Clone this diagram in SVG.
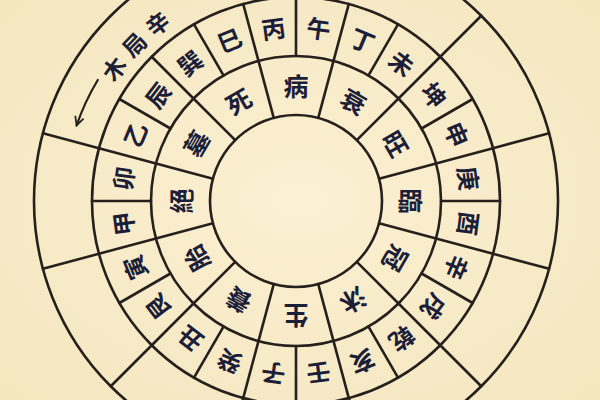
<svg xmlns="http://www.w3.org/2000/svg" width="600" height="400" viewBox="0 0 600 400">
<defs>
<style>
.ln{stroke:#26211d;stroke-width:2.6;fill:none;stroke-linecap:round}
.m{font-family:"Noto Sans CJK TC","Noto Sans CJK SC",sans-serif;font-size:24px;font-weight:bold;fill:#1b2038;text-anchor:middle;dominant-baseline:central}
.s{font-family:"Noto Sans CJK TC","Noto Sans CJK SC",sans-serif;font-size:25px;font-weight:bold;fill:#1b2038;text-anchor:middle;dominant-baseline:central}
.o{font-family:"Noto Sans CJK TC","Noto Sans CJK SC",sans-serif;font-size:23px;font-weight:bold;fill:#1b2038;text-anchor:middle;dominant-baseline:central}
</style>
<radialGradient id="bg" cx="50%" cy="50%" r="70%">
<stop offset="0" stop-color="#fbf0d2"/>
<stop offset="1" stop-color="#f4e6bf"/>
</radialGradient>
<marker id="ah" viewBox="0 0 10 10" refX="9" refY="5" markerWidth="5" markerHeight="5" orient="auto" markerUnits="strokeWidth">
<path d="M1,1 L9,5 L1,9" fill="none" stroke="#26211d" stroke-width="1.6"/>
</marker>
</defs>
<rect width="600" height="400" fill="url(#bg)"/>
<g id="rings" class="ln">
<circle cx="296" cy="201" r="86"/>
<circle cx="296" cy="201" r="145"/>
<circle cx="296" cy="201" r="204"/>
<circle cx="296" cy="201" r="262"/>
</g>
<g id="connectors" class="ln">
<line x1="296" y1="56" x2="296" y2="-3" transform="rotate(0 296 201)"/>
<line x1="296" y1="56" x2="296" y2="-3" transform="rotate(15 296 201)"/>
<line x1="296" y1="56" x2="296" y2="-3" transform="rotate(30 296 201)"/>
<line x1="296" y1="56" x2="296" y2="-3" transform="rotate(45 296 201)"/>
<line x1="296" y1="56" x2="296" y2="-3" transform="rotate(60 296 201)"/>
<line x1="296" y1="56" x2="296" y2="-3" transform="rotate(75 296 201)"/>
<line x1="296" y1="56" x2="296" y2="-3" transform="rotate(90 296 201)"/>
<line x1="296" y1="56" x2="296" y2="-3" transform="rotate(105 296 201)"/>
<line x1="296" y1="56" x2="296" y2="-3" transform="rotate(120 296 201)"/>
<line x1="296" y1="56" x2="296" y2="-3" transform="rotate(135 296 201)"/>
<line x1="296" y1="56" x2="296" y2="-3" transform="rotate(150 296 201)"/>
<line x1="296" y1="56" x2="296" y2="-3" transform="rotate(165 296 201)"/>
<line x1="296" y1="56" x2="296" y2="-3" transform="rotate(180 296 201)"/>
<line x1="296" y1="56" x2="296" y2="-3" transform="rotate(195 296 201)"/>
<line x1="296" y1="56" x2="296" y2="-3" transform="rotate(210 296 201)"/>
<line x1="296" y1="56" x2="296" y2="-3" transform="rotate(225 296 201)"/>
<line x1="296" y1="56" x2="296" y2="-3" transform="rotate(240 296 201)"/>
<line x1="296" y1="56" x2="296" y2="-3" transform="rotate(255 296 201)"/>
<line x1="296" y1="56" x2="296" y2="-3" transform="rotate(270 296 201)"/>
<line x1="296" y1="56" x2="296" y2="-3" transform="rotate(285 296 201)"/>
<line x1="296" y1="56" x2="296" y2="-3" transform="rotate(300 296 201)"/>
<line x1="296" y1="56" x2="296" y2="-3" transform="rotate(315 296 201)"/>
<line x1="296" y1="56" x2="296" y2="-3" transform="rotate(330 296 201)"/>
<line x1="296" y1="56" x2="296" y2="-3" transform="rotate(345 296 201)"/>
<line x1="296" y1="115" x2="296" y2="56" transform="rotate(15 296 201)"/>
<line x1="296" y1="115" x2="296" y2="56" transform="rotate(45 296 201)"/>
<line x1="296" y1="115" x2="296" y2="56" transform="rotate(75 296 201)"/>
<line x1="296" y1="115" x2="296" y2="56" transform="rotate(105 296 201)"/>
<line x1="296" y1="115" x2="296" y2="56" transform="rotate(135 296 201)"/>
<line x1="296" y1="115" x2="296" y2="56" transform="rotate(165 296 201)"/>
<line x1="296" y1="115" x2="296" y2="56" transform="rotate(195 296 201)"/>
<line x1="296" y1="115" x2="296" y2="56" transform="rotate(225 296 201)"/>
<line x1="296" y1="115" x2="296" y2="56" transform="rotate(255 296 201)"/>
<line x1="296" y1="115" x2="296" y2="56" transform="rotate(285 296 201)"/>
<line x1="296" y1="115" x2="296" y2="56" transform="rotate(315 296 201)"/>
<line x1="296" y1="115" x2="296" y2="56" transform="rotate(345 296 201)"/>
<line x1="296" y1="-3" x2="296" y2="-61" transform="rotate(45 296 201)"/>
<line x1="296" y1="-3" x2="296" y2="-61" transform="rotate(75 296 201)"/>
<line x1="296" y1="-3" x2="296" y2="-61" transform="rotate(105 296 201)"/>
<line x1="296" y1="-3" x2="296" y2="-61" transform="rotate(135 296 201)"/>
<line x1="296" y1="-3" x2="296" y2="-61" transform="rotate(165 296 201)"/>
<line x1="296" y1="-3" x2="296" y2="-61" transform="rotate(195 296 201)"/>
<line x1="296" y1="-3" x2="296" y2="-61" transform="rotate(225 296 201)"/>
<line x1="296" y1="-3" x2="296" y2="-61" transform="rotate(255 296 201)"/>
<line x1="296" y1="-3" x2="296" y2="-61" transform="rotate(285 296 201)"/>
<path d="M97.8,80 A232,232 0 0 0 76.6,125.5" stroke-width="2.2" marker-end="url(#ah)"/>
</g>
<g id="mountains">
<text class="m" x="296" y="26" transform="rotate(7.5 296 201)">午</text>
<text class="m" x="296" y="26" transform="rotate(22.5 296 201)">丁</text>
<text class="m" x="296" y="26" transform="rotate(37.5 296 201)">未</text>
<text class="m" x="296" y="26" transform="rotate(52.5 296 201)">坤</text>
<text class="m" x="296" y="26" transform="rotate(67.5 296 201)">申</text>
<text class="m" x="296" y="26" transform="rotate(82.5 296 201)">庚</text>
<text class="m" x="296" y="26" transform="rotate(97.5 296 201)">酉</text>
<text class="m" x="296" y="26" transform="rotate(112.5 296 201)">辛</text>
<text class="m" x="296" y="26" transform="rotate(127.5 296 201)">戌</text>
<text class="m" x="296" y="26" transform="rotate(142.5 296 201)">乾</text>
<text class="m" x="296" y="26" transform="rotate(157.5 296 201)">亥</text>
<text class="m" x="296" y="26" transform="rotate(172.5 296 201)">壬</text>
<text class="m" x="296" y="26" transform="rotate(187.5 296 201)">子</text>
<text class="m" x="296" y="26" transform="rotate(202.5 296 201)">癸</text>
<text class="m" x="296" y="26" transform="rotate(217.5 296 201)">丑</text>
<text class="m" x="296" y="26" transform="rotate(232.5 296 201)">艮</text>
<text class="m" x="296" y="26" transform="rotate(247.5 296 201)">寅</text>
<text class="m" x="296" y="26" transform="rotate(262.5 296 201)">甲</text>
<text class="m" x="296" y="26" transform="rotate(277.5 296 201)">卯</text>
<text class="m" x="296" y="26" transform="rotate(292.5 296 201)">乙</text>
<text class="m" x="296" y="26" transform="rotate(307.5 296 201)">辰</text>
<text class="m" x="296" y="26" transform="rotate(322.5 296 201)">巽</text>
<text class="m" x="296" y="26" transform="rotate(337.5 296 201)">巳</text>
<text class="m" x="296" y="26" transform="rotate(352.5 296 201)">丙</text>
</g>
<g id="stages">
<text class="s" x="296" y="85" transform="rotate(0 296 201)">病</text>
<text class="s" x="296" y="85" transform="rotate(30 296 201)">衰</text>
<text class="s" x="296" y="85" transform="rotate(60 296 201)">旺</text>
<text class="s" x="296" y="85" transform="rotate(90 296 201)">臨</text>
<text class="s" x="296" y="85" transform="rotate(120 296 201)">冠</text>
<text class="s" x="296" y="85" transform="rotate(150 296 201)">沐</text>
<text class="s" x="296" y="85" transform="rotate(180 296 201)">生</text>
<text class="s" x="296" y="85" transform="rotate(210 296 201)">養</text>
<text class="s" x="296" y="85" transform="rotate(240 296 201)">胎</text>
<text class="s" x="296" y="85" transform="rotate(270 296 201)">絕</text>
<text class="s" x="296" y="85" transform="rotate(300 296 201)">墓</text>
<text class="s" x="296" y="85" transform="rotate(330 296 201)">死</text>
</g>
<g id="outer-label">
<text class="o" x="296" y="-25" transform="rotate(306 296 201)">木</text>
<text class="o" x="296" y="-25" transform="rotate(314 296 201)">局</text>
<text class="o" x="296" y="-25" transform="rotate(322 296 201)">辛</text>
</g>
</svg>
